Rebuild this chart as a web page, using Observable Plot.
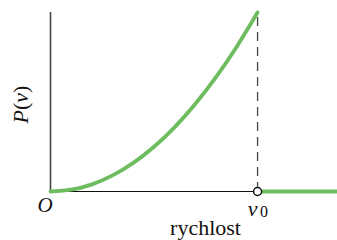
<!DOCTYPE html>
<html><head><meta charset="utf-8">
<script src="https://cdn.jsdelivr.net/npm/d3@7"></script>
<script src="https://cdn.jsdelivr.net/npm/@observablehq/plot@0.6"></script>
<style>body{margin:0;background:#fff}</style>
</head><body><div id="chart"></div>
<script>
const speed = [0, 0.1, 0.2, 0.3, 0.4, 0.5, 0.6, 0.7, 0.8, 0.9, 1];
const prob  = [0, 0.01, 0.04, 0.09, 0.16, 0.25, 0.36, 0.49, 0.64, 0.81, 1];
const tailSpeed = [1, 1.39];
const tailProb = [0, 0];
const v0 = 1;
const originLabel = "O";
const xLabel = "rychlost";
const yLabel = "P(v)";

const curve = speed.map((s, i) => ({s, p: prob[i]}));
const tail = tailSpeed.map((s, i) => ({s, p: tailProb[i]}));
const serif = "Liberation Serif, Times New Roman, serif";
const green = "#6dbd5f";

const chart = Plot.plot({
  width: 337, height: 240,
  marginLeft: 50, marginRight: 0, marginTop: 12, marginBottom: 49,
  x: {domain: [0, 1.386], axis: null},
  y: {domain: [0, 1], axis: null},
  style: {background: "white"},
  marks: [
    Plot.ruleY([0], {x1: 0, x2: v0, stroke: "#111", strokeWidth: 1.2}),
    Plot.ruleX([0], {y1: 0, y2: 1, stroke: "#444", strokeWidth: 1.6}),
    Plot.ruleX([v0], {y1: 0, y2: 1, stroke: "#444", strokeWidth: 1.3, strokeDasharray: "9,6"}),
    Plot.line(curve, {x: "s", y: "p", curve: "natural", stroke: green, strokeWidth: 3.8}),
    Plot.line(tail, {x: "s", y: "p", stroke: green, strokeWidth: 3.8}),
    Plot.dot([v0], {x: d => d, y: 0, r: 4, fill: "white", stroke: "#111", strokeWidth: 1.5}),
    Plot.text([originLabel], {x: 0, y: 0, text: d => d, dx: -5.5, dy: 14, fontSize: 21, fontStyle: "italic", fontFamily: serif, fill: "#111"}),
    Plot.text(["v"], {x: v0, y: 0, text: d => d, dx: -5, dy: 17, fontSize: 22, fontStyle: "italic", fontFamily: serif, fill: "#111"}),
    Plot.text(["0"], {x: v0, y: 0, text: d => d, dx: 6.5, dy: 20.5, fontSize: 16, fontFamily: serif, fill: "#111"}),
    Plot.text([xLabel], {frameAnchor: "bottom", text: d => d, dx: 11.5, dy: 43, fontSize: 22, fontFamily: serif, fill: "#111"}),
    Plot.text([yLabel], {frameAnchor: "left", textAnchor: "middle", text: d => d, dx: -30, dy: 2.5, rotate: -90, fontSize: 22, fontFamily: serif, fill: "#111"})
  ]
});
document.getElementById("chart").appendChild(chart);

d3.select(chart).selectAll("text").filter(function() { return this.textContent === yLabel; })
  .each(function() {
    const t = d3.select(this);
    t.text(null);
    [["P", true], ["(", false], ["v", true], [")", false]].forEach(([s, it]) => {
      t.append("tspan").attr("font-style", it ? "italic" : "normal").text(s);
    });
  });
</script>
</body></html>
